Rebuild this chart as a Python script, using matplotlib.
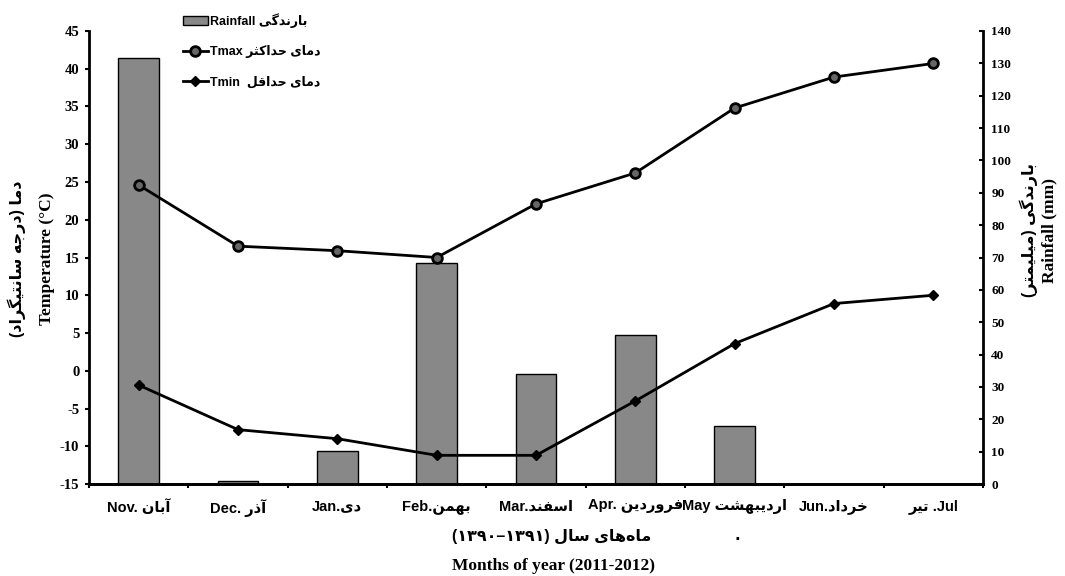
import matplotlib
matplotlib.use("Agg")
import matplotlib.pyplot as plt
from matplotlib.patches import Rectangle
from matplotlib.legend_handler import HandlerPatch
import numpy as np

plt.rcParams['axes.unicode_minus'] = False

# Persian letters -> (isolated, final, initial, medial); right-joining ones only have 2 forms
FORMS = {
    'آ': ('\uFE81', '\uFE82'),
    'ا': ('\uFE8D', '\uFE8E'),
    'د': ('\uFEA9', '\uFEAA'),
    'ذ': ('\uFEAB', '\uFEAC'),
    'ر': ('\uFEAD', '\uFEAE'),
    'ز': ('\uFEAF', '\uFEB0'),
    'و': ('\uFEED', '\uFEEE'),
    'ب': ('\uFE8F', '\uFE90', '\uFE91', '\uFE92'),
    'ت': ('\uFE95', '\uFE96', '\uFE97', '\uFE98'),
    'ث': ('\uFE99', '\uFE9A', '\uFE9B', '\uFE9C'),
    'ج': ('\uFE9D', '\uFE9E', '\uFE9F', '\uFEA0'),
    'ح': ('\uFEA1', '\uFEA2', '\uFEA3', '\uFEA4'),
    'خ': ('\uFEA5', '\uFEA6', '\uFEA7', '\uFEA8'),
    'س': ('\uFEB1', '\uFEB2', '\uFEB3', '\uFEB4'),
    'ش': ('\uFEB5', '\uFEB6', '\uFEB7', '\uFEB8'),
    'ف': ('\uFED1', '\uFED2', '\uFED3', '\uFED4'),
    'ق': ('\uFED5', '\uFED6', '\uFED7', '\uFED8'),
    'ک': ('\uFB8E', '\uFB8F', '\uFB90', '\uFB91'),
    'گ': ('\uFB92', '\uFB93', '\uFB94', '\uFB95'),
    'ل': ('\uFEDD', '\uFEDE', '\uFEDF', '\uFEE0'),
    'م': ('\uFEE1', '\uFEE2', '\uFEE3', '\uFEE4'),
    'ن': ('\uFEE5', '\uFEE6', '\uFEE7', '\uFEE8'),
    'ه': ('\uFEE9', '\uFEEA', '\uFEEB', '\uFEEC'),
    'ی': ('\uFEEF', '\uFEF0', '\uFEF3', '\uFEF4'),
}


def rtl(s):
    # shape the letters, then put them in visual (left to right) order
    out = []
    for i, c in enumerate(s):
        if c not in FORMS:
            if c != '\u200c':
                out.append(c)
            continue
        prev = s[i - 1] if i > 0 else ''
        nxt = s[i + 1] if i + 1 < len(s) else ''
        pj = prev in FORMS and len(FORMS[prev]) == 4
        nj = len(FORMS[c]) == 4 and nxt in FORMS
        f = FORMS[c]
        if pj and nj:
            out.append(f[3])
        elif pj:
            out.append(f[1])
        elif nj:
            out.append(f[2])
        else:
            out.append(f[0])
    vis = ''.join(reversed(out))
    return vis.replace('(', '\0').replace(')', '(').replace('\0', ')')


# data
months_en = ["Nov.", "Dec.", "Jan.", "Feb.", "Mar.", "Apr.", "May", "Jun.", "Jul."]
months_fa = ["آبان", "آذر", "دی", "بهمن", "اسفند", "فروردین", "اردیبهشت", "خرداد", "تیر"]
rainfall = [131.6, 0.9, 10.2, 68.4, 34.1, 46.1, 18.0, 0, 0]
tmax = [24.6, 16.5, 15.9, 15.0, 22.1, 26.2, 34.8, 38.9, 40.7]
tmin = [-1.9, -7.8, -9.0, -11.2, -11.2, -4.0, 3.6, 8.9, 10.0]

tick_labels = [
    "Nov. " + rtl("آبان"),
    "Dec. " + rtl("آذر"),
    "Jan." + rtl("دی"),
    "Feb." + rtl("بهمن"),
    "Mar." + rtl("اسفند"),
    "Apr. " + rtl("فروردین"),
    "May " + rtl("اردیبهشت"),
    "Jun." + rtl("خرداد"),
    rtl("تیر") + " .Jul",
]

sans = ['Liberation Sans', 'DejaVu Sans']
serif = ['Liberation Serif', 'DejaVu Sans']

fig = plt.figure(figsize=(10.65, 5.76), dpi=100)
ax1 = fig.add_axes([0.0836, 0.1597, 0.8394, 0.7865])
ax2 = ax1.twinx()
ax1.set_zorder(ax2.get_zorder() + 1)
ax1.patch.set_visible(False)

x = np.arange(len(months_en))

# rainfall bars (right axis)
bars = ax2.bar(x, rainfall, width=0.41, color='#888888', edgecolor='black', linewidth=1)
ax2.set_ylim(0, 140)
ax2.set_yticks(np.arange(0, 141, 10))

# temperatures (left axis)
l1, = ax1.plot(x, tmax, color='black', lw=2, marker='o', ms=7,
               mfc='#666666', mec='black', mew=2)
l2, = ax1.plot(x, tmin, color='black', lw=2, marker='D', ms=5.5,
               mfc='black', mec='black')
ax1.set_ylim(-15, 45)
ax1.set_yticks(np.arange(-15, 46, 5))
ax1.set_xlim(-0.5, 8.5)

# tick marks at category boundaries, labels at centres
ax1.set_xticks(np.arange(-0.5, 9, 1))
ax1.set_xticklabels([])
ax1.set_xticks(x, minor=True)
ax1.set_xticklabels(tick_labels, minor=True, family=sans, fontweight='bold', fontsize=10.5)
ax1.tick_params(axis='x', which='major', direction='out', length=3, width=1.5)
ax1.tick_params(axis='x', which='minor', length=0, pad=11)

ax1.tick_params(axis='y', direction='out', length=3, width=1.5, pad=4)
for t in ax1.get_yticklabels():
    t.set_family(serif)
    t.set_fontweight('bold')
    t.set_fontsize(10.5)
ax2.tick_params(axis='y', direction='in', length=3, width=1.5, pad=6)
for t in ax2.get_yticklabels():
    t.set_family(serif)
    t.set_fontweight('bold')
    t.set_fontsize(9.5)

for a in (ax1, ax2):
    a.spines['top'].set_visible(False)
    for sp in a.spines.values():
        sp.set_linewidth(2)
ax1.spines['right'].set_visible(False)
ax2.spines['left'].set_visible(False)

# axis titles
fig.text(0.044, 0.55, "Temperature (°C)", rotation=90, ha='center', va='center',
         family=serif, fontweight='bold', fontsize=12.5)
fig.text(0.016, 0.55, rtl("دما (درجه سانتیگراد)"), rotation=90, ha='center', va='center',
         family=sans, fontweight='bold', fontsize=11.5)
fig.text(0.985, 0.6, "Rainfall (mm)", rotation=90, ha='center', va='center',
         family=serif, fontweight='bold', fontsize=12.5)
fig.text(0.966, 0.6, rtl("بارندگی (میلیمتر)"), rotation=90, ha='center', va='center',
         family=sans, fontweight='bold', fontsize=11.5)
fig.text(0.518, 0.068, "(۱۳۹۰–۱۳۹۱) " + rtl("ماه‌های سال"), ha='center', va='center',
         family=sans, fontweight='bold', fontsize=11.5)
fig.text(0.52, 0.018, "Months of year (2011-2012)", ha='center', va='center',
         family=serif, fontweight='bold', fontsize=12.5)
fig.text(0.692, 0.07, ".", ha='center', va='center', fontsize=11, fontweight='bold')


def thin_rect(legend, orig_handle, xdescent, ydescent, width, height, fontsize):
    return Rectangle((-xdescent, -ydescent + height * 0.25), width, height * 0.5)


leg = fig.legend([bars, l1, l2],
                 ["Rainfall " + rtl("بارندگی"),
                  "Tmax " + rtl("دمای حداکثر"),
                  "Tmin  " + rtl("دمای حداقل")],
                 loc='upper left', bbox_to_anchor=(0.161, 0.997), frameon=False,
                 prop={'family': sans, 'weight': 'bold', 'size': 9},
                 handlelength=2.0, handletextpad=0.2, labelspacing=1.4,
                 handler_map={type(bars.patches[0]): HandlerPatch(patch_func=thin_rect)})

fig.savefig("out.png", dpi=100)
